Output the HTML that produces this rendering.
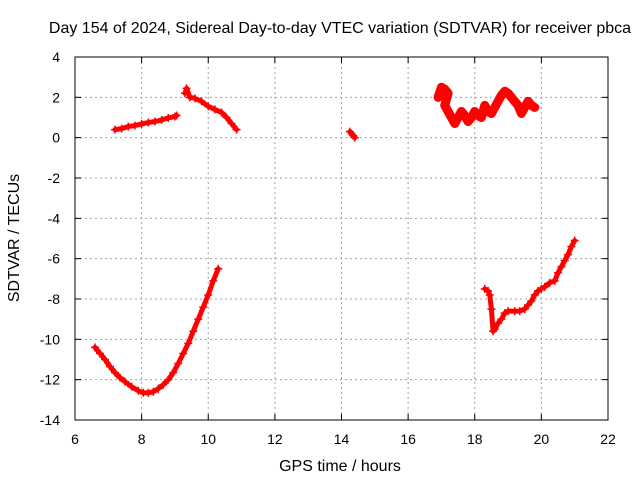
<!DOCTYPE html>
<html><head><meta charset="utf-8"><style>
body{margin:0;background:#fff}
svg{display:block;font-family:"Liberation Sans",Arial,sans-serif}
</style></head><body>
<svg id="chart" width="640" height="480">
<text x="340" y="33" text-anchor="middle" font-size="16">Day 154 of 2024, Sidereal Day-to-day VTEC variation (SDTVAR) for receiver pbca</text>
<g id="grid"></g><g id="axes"></g><g id="marks"></g>
<text x="340" y="471" text-anchor="middle" font-size="16">GPS time / hours</text>
<text transform="translate(19,238) rotate(-90)" text-anchor="middle" font-size="16">SDTVAR / TECUs</text>
</svg>
<script>
const xTicks=[6,8,10,12,14,16,18,20,22];
const yTicks=[4,2,0,-2,-4,-6,-8,-10,-12,-14];
const segA_x=[7.2,7.4,7.6,7.8,8.0,8.2,8.4,8.6,8.8,9.0,9.05];
const segA_y=[0.4,0.45,0.55,0.6,0.68,0.75,0.8,0.88,0.98,1.05,1.1];
const segB_x=[9.3,9.35,9.45,9.6,9.8,10.0,10.2,10.4,10.55,10.7,10.85];
const segB_y=[2.2,2.45,2.0,1.95,1.8,1.55,1.4,1.25,1.0,0.7,0.4];
const segC_x=[14.25,14.3,14.35,14.4];
const segC_y=[0.3,0.2,0.1,0.0];
const segD_x=[16.9,17.0,17.1,17.2,17.1,17.2,17.3,17.4,17.5,17.6,17.7,17.8,17.9,18.0,18.1,18.2,18.3,18.4,18.5,18.6,18.7,18.8,18.9,19.0,19.1,19.2,19.3,19.4,19.5,19.6,19.7,19.8];
const segD_y=[2.0,2.5,2.4,2.2,1.6,1.3,1.0,0.7,1.0,1.3,1.1,0.8,1.0,1.3,1.1,1.0,1.6,1.3,1.2,1.5,1.8,2.1,2.3,2.2,2.0,1.8,1.6,1.2,1.5,1.8,1.6,1.5];
const segE_x=[6.6,6.75,6.9,7.05,7.2,7.35,7.5,7.7,7.9,8.05,8.2,8.35,8.5,8.65,8.8,8.95,9.1,9.25,9.4,9.55,9.7,9.85,10.0,10.15,10.3];
const segE_y=[-10.4,-10.7,-11.0,-11.35,-11.65,-11.9,-12.1,-12.35,-12.55,-12.65,-12.65,-12.6,-12.45,-12.25,-12.0,-11.65,-11.2,-10.7,-10.2,-9.6,-9.0,-8.4,-7.8,-7.1,-6.5];
const segF_x=[18.3,18.4,18.45,18.5,18.55,18.6,18.7,18.8,18.9,19.0,19.2,19.35,19.5,19.6,19.7,19.8,19.9,20.0,20.1,20.25,20.4,20.5,20.6,20.7,20.8,20.9,21.0];
const segF_y=[-7.5,-7.6,-7.8,-8.5,-9.6,-9.5,-9.2,-9.0,-8.7,-8.6,-8.6,-8.6,-8.5,-8.3,-8.1,-7.8,-7.6,-7.5,-7.4,-7.2,-7.1,-6.7,-6.4,-6.1,-5.8,-5.4,-5.1];
const X0=75,X1=608,Y0=57,Y1=420;
const sx=v=>X0+(v-6)/(22-6)*(X1-X0);
const sy=v=>Y0+(4-v)/(4-(-14))*(Y1-Y0);
const NS="http://www.w3.org/2000/svg";
function mk(t,a,p){const e=document.createElementNS(NS,t);for(const k in a)e.setAttribute(k,a[k]);p.appendChild(e);return e;}
const grid=document.getElementById('grid'),axes=document.getElementById('axes'),marks=document.getElementById('marks');
xTicks.forEach(t=>{const x=sx(t);
 if(t>6&&t<22){const l=mk('line',{x1:x,x2:x,y1:Y0,y2:Y1,stroke:'#a0a0a0','stroke-dasharray':'2,3'},grid);
 
 }
 mk('line',{x1:x,x2:x,y1:Y1,y2:Y1-6,stroke:'#000'},axes);mk('line',{x1:x,x2:x,y1:Y0,y2:Y0+6,stroke:'#000'},axes);
 const tx=mk('text',{x:x,y:Y1+24,'text-anchor':'middle','font-size':14},axes);tx.textContent=t;
 
 });
yTicks.forEach(t=>{const y=sy(t);
 if(t<4&&t>-14){const l=mk('line',{x1:X0,x2:X1,y1:y,y2:y,stroke:'#a0a0a0','stroke-dasharray':'2,3'},grid);
 
 }
 mk('line',{x1:X0,x2:X0+6,y1:y,y2:y,stroke:'#000'},axes);mk('line',{x1:X1,x2:X1-6,y1:y,y2:y,stroke:'#000'},axes);
 const tx=mk('text',{x:X0-15,y:y+5,'text-anchor':'end','font-size':14},axes);tx.textContent=t;
 
 });
const fr=mk('rect',{x:X0,y:Y0,width:X1-X0,height:Y1-Y0,fill:'none',stroke:'#000'},axes);


[[segA_x,segA_y],[segB_x,segB_y],[segC_x,segC_y],[segD_x,segD_y],[segE_x,segE_y],[segF_x,segF_y]].forEach((s,i)=>{
 const g=mk('g',{},marks);
 
 
 const pts=s[0].map((x,j)=>sx(x)+','+sy(s[1][j])).join(' ');
 mk('polyline',{points:pts,fill:'none',stroke:'#ff0000','stroke-width':i===3?9:5,'stroke-linejoin':'round','stroke-linecap':'round'},g);
 s[0].forEach((x,j)=>{const px=sx(x),py=sy(s[1][j]);
  const p=mk('path',{d:`M${px-4},${py}h8M${px},${py-4}v8`,stroke:'#ff0000','stroke-width':1.5},g);
  
  });
});
</script>
</body></html>
